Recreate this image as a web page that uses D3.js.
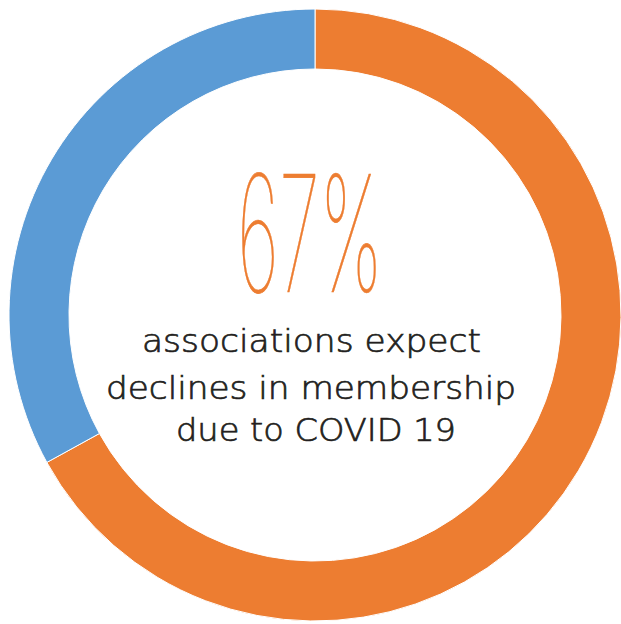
<!DOCTYPE html>
<html><head><meta charset="utf-8">
<script src="https://cdn.jsdelivr.net/npm/d3@7/dist/d3.min.js"></script>
<style>html,body{margin:0;padding:0;background:#fff;overflow:hidden}</style>
</head><body>
<svg id="chart" width="621" height="624"></svg>
<script>
const categories = ["Expect declines", "Other"];
const values = [67, 33];
const colors = ["#ED7D31", "#5B9BD5"];
const bigLabel = "67%";
const captionLines = ["associations expect", "declines in membership", "due to COVID 19"];

const svg = d3.select("#chart");
const cx = 315, cy = 315, rOuter = 306, rInner = 246;
const g = svg.append("g").attr("transform", `translate(${cx},${cy})`);

const pie = d3.pie().sort(null).value(d => d.v);
const arc = d3.arc().innerRadius(rInner).outerRadius(rOuter);
const data = categories.map((c, i) => ({c, v: values[i], col: colors[i]}));

g.selectAll("path").data(pie(data)).join("path")
  .attr("d", arc)
  .attr("fill", d => d.data.col)
  .attr("stroke", "#fff")
  .attr("stroke-width", 1);

g.append("text")
  .attr("x", -5).attr("y", -23)
  .attr("text-anchor", "middle")
  .attr("font-family", "Inter, 'DejaVu Sans', sans-serif")
  .attr("font-weight", 100)
  .attr("font-size", 162)
  .attr("fill", "#ED7D31")
  .attr("stroke", "#ED7D31")
  .attr("stroke-width", 0.6)
  .attr("textLength", 146)
  .attr("lengthAdjust", "spacingAndGlyphs")
  .text(bigLabel);

const lineY = [37, 84, 126];
const lineX = [-3.5, -4, 1];
const lineW = [339, 410, 280];
g.selectAll("text.cap").data(captionLines).join("text")
  .attr("class", "cap")
  .attr("x", (d, i) => lineX[i])
  .attr("y", (d, i) => lineY[i])
  .attr("text-anchor", "middle")
  .attr("font-family", "'DejaVu Sans', sans-serif")
  .attr("font-weight", 200)
  .attr("font-size", 32)
  .attr("fill", "#231F20")
  .attr("stroke", "#231F20")
  .attr("stroke-width", 0.7)
  .attr("textLength", (d, i) => lineW[i])
  .attr("lengthAdjust", "spacingAndGlyphs")
  .text(d => d);
</script>
</body></html>
